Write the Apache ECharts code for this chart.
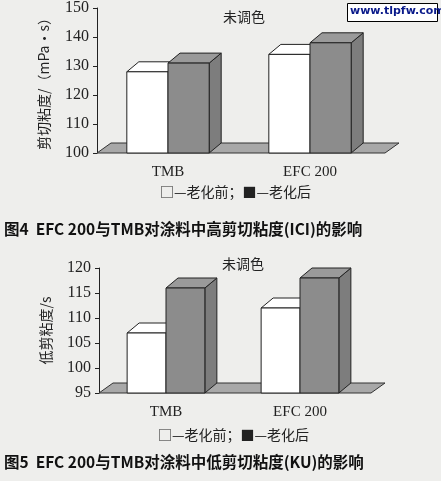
<!DOCTYPE html>
<html>
<head>
<meta charset="utf-8">
<script src="https://cdn.jsdelivr.net/npm/echarts@6/dist/echarts.min.js"></script>
<style>
    html,body{margin:0;padding:0;background:#eeeeec;}
    #main{width:441px;height:481px;}
</style>
</head>
<body>
<div id="main"></div>
<script>
    var categories = ['TMB', 'EFC 200'];
    var ici_before = [128, 134];   // 老化前
    var ici_after = [131, 138];    // 老化后
    var ku_before = [107, 112];
    var ku_after = [116, 118];

    var serif = '"Liberation Serif", "Noto Sans CJK SC", serif';
    var cjk = '"Noto Sans CJK SC", sans-serif';
    var DX = 12, DY = 10;

    // 伪3D柱子：正面+顶面+侧面
    function box(offset, front, top, side){
        return function(params, api){
            var cat = api.value(0), val = api.value(1);
            var p = api.coord([cat, val]);
            var y0 = params.coordSys.y + params.coordSys.height;
            var w = api.size([1, 0])[0] * 0.29;
            var x1 = p[0] + offset * w, x2 = x1 + w, yt = p[1];
            var st = {stroke:'#222', lineWidth:1};
            return {type:'group', children:[
                {type:'polygon', shape:{points:[[x2,yt],[x2+DX,yt-DY],[x2+DX,y0-DY],[x2,y0]]}, style:Object.assign({fill:side}, st)},
                {type:'polygon', shape:{points:[[x1,yt],[x1+DX,yt-DY],[x2+DX,yt-DY],[x2,yt]]}, style:Object.assign({fill:top}, st)},
                {type:'rect', shape:{x:x1, y:yt, width:w, height:y0-yt}, style:Object.assign({fill:front}, st)}
            ]};
        };
    }
    function floor(params, api){
        var cs = params.coordSys;
        var y0 = cs.y + cs.height, xl = cs.x, xr = cs.x + cs.width + 4;
        return {type:'polygon', shape:{points:[[xl,y0],[xr,y0],[xr+DX+2,y0-DY],[xl+DX+2,y0-DY]]},
            style:{fill:'#a8a8a8', stroke:'#333', lineWidth:1}};
    }
    function mk(idx, name, data, fn){
        return {type:'custom', name:name, xAxisIndex:idx, yAxisIndex:idx, renderItem:fn,
            data:data.map(function(v,i){return [i, v];})};
    }
    function yAx(idx, min, max, interval, name){
        return {type:'value', gridIndex:idx, min:min, max:max, interval:interval,
            name:name, nameLocation:'middle', nameGap:46, nameRotate:90,
            nameTextStyle:{fontFamily:cjk, fontSize:14, color:'#222'},
            axisLine:{show:true, lineStyle:{color:'#222'}}, axisTick:{show:true, length:4, lineStyle:{color:'#222'}},
            splitLine:{show:false}, axisLabel:{fontFamily:serif, fontSize:16, color:'#222', margin:8}};
    }
    function xAx(idx){
        return {type:'category', gridIndex:idx, data:categories,
            axisLine:{show:false}, axisTick:{show:false},
            axisLabel:{fontFamily:serif, fontSize:15, color:'#222', margin:12}};
    }

    var chart = echarts.init(document.getElementById('main'));
    chart.setOption({
        backgroundColor:'#eeeeec',
        animation:false,
        grid:[
            {left:97, top:8, width:284, height:145},
            {left:99, top:268, width:268, height:125}
        ],
        xAxis:[xAx(0), xAx(1)],
        yAxis:[yAx(0, 100, 150, 10, '剪切粘度/（mPa·s）'), yAx(1, 95, 120, 5, '低剪粘度/s')],
        graphic:[
            {type:'text', left:223, top:10, style:{text:'未调色', font:'14px '+cjk, fill:'#222'}},
            {type:'text', left:222, top:257, style:{text:'未调色', font:'14px '+cjk, fill:'#222'}},
            {type:'text', left:160, top:185, style:{text:'□—老化前；■—老化后', font:'14px '+cjk, fill:'#222'}},
            {type:'text', left:158, top:428, style:{text:'□—老化前；■—老化后', font:'14px '+cjk, fill:'#222'}},
            {type:'text', left:4, top:221, style:{text:'图4  EFC 200与TMB对涂料中高剪切粘度(ICI)的影响', font:'bold 15.5px '+cjk, fill:'#111'}},
            {type:'text', left:4, top:454, style:{text:'图5  EFC 200与TMB对涂料中低剪切粘度(KU)的影响', font:'bold 15.5px '+cjk, fill:'#111'}},
            {type:'rect', left:347, top:3, shape:{width:90, height:18}, style:{fill:'#fff', stroke:'#000', lineWidth:1}},
            {type:'text', left:350, top:6, style:{text:'www.tlpfw.com', font:'bold 11px "DejaVu Sans", sans-serif', fill:'#0a1a8a'}}
        ],
        series:[
            {type:'custom', xAxisIndex:0, yAxisIndex:0, renderItem:floor, data:[[0,100]], z:1},
            mk(0, '老化前', ici_before, box(-1, '#ffffff', '#ffffff', '#ffffff')),
            mk(0, '老化后', ici_after, box(0, '#8c8c8c', '#9a9a9a', '#7d7d7d')),
            {type:'custom', xAxisIndex:1, yAxisIndex:1, renderItem:floor, data:[[0,95]], z:1},
            mk(1, '老化前', ku_before, box(-1, '#ffffff', '#ffffff', '#ffffff')),
            mk(1, '老化后', ku_after, box(0, '#8c8c8c', '#9a9a9a', '#7d7d7d'))
        ]
    });
</script>
</body>
</html>
